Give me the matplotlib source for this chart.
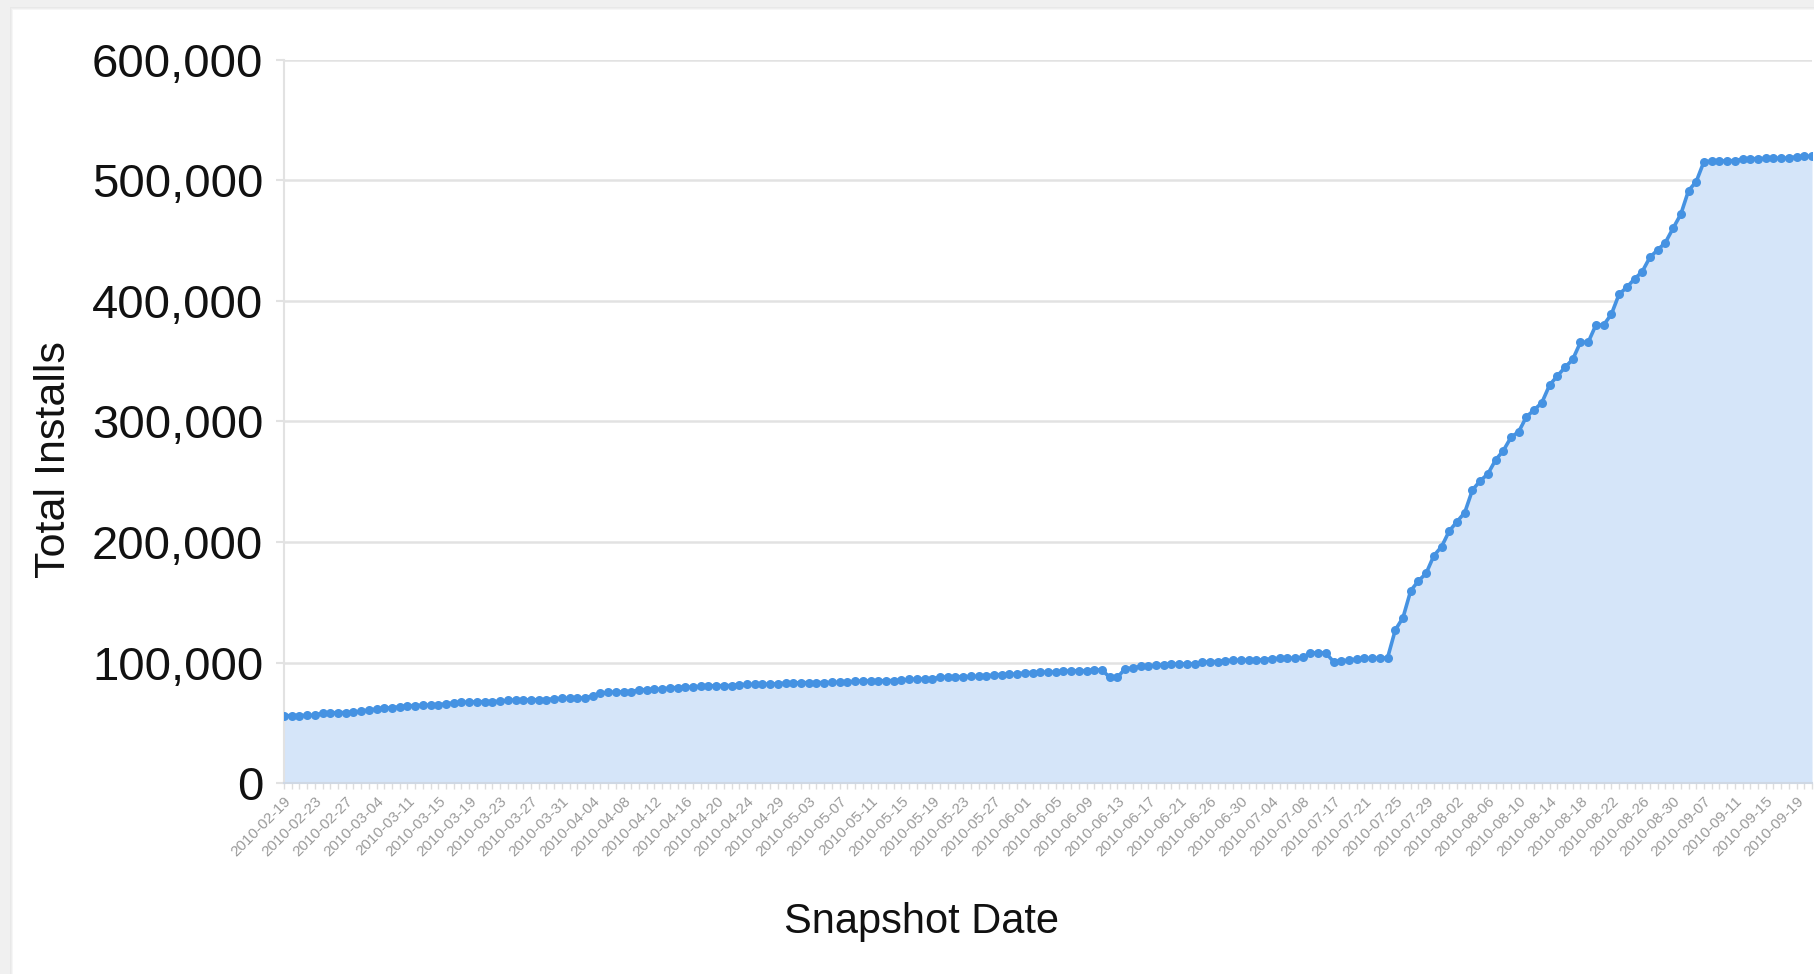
import matplotlib
matplotlib.use("Agg")
import matplotlib.pyplot as plt
from matplotlib.patches import Rectangle
from matplotlib.ticker import FuncFormatter
import numpy as np

plt.rcParams["font.family"] = ["Liberation Sans", "DejaVu Sans"]

# total installs per snapshot (thousands)
installs_k = [
    55.8, 55.9, 56.0, 56.1, 56.3, 58.0, 58.2, 58.4, 58.5, 58.6,
    59.8, 60.5, 61.5, 62.0, 62.6, 63.2, 64.0, 64.3, 64.5, 64.7,
    64.9, 65.8, 66.5, 67.0, 67.2, 67.4, 67.5, 67.6, 67.8, 68.6,
    68.8, 68.9, 69.0, 69.1, 69.2, 70.0, 70.2, 70.3, 70.4, 70.6,
    72.5, 74.4, 75.2, 75.5, 75.7, 75.9, 77.2, 77.5, 77.7, 77.9,
    79.0, 79.2, 79.4, 79.6, 80.4, 80.6, 80.7, 80.8, 80.9, 81.6,
    81.8, 81.9, 82.0, 82.1, 82.4, 83.0, 83.1, 83.2, 83.3, 83.3,
    83.4, 83.5, 83.6, 83.8, 84.4, 84.6, 84.7, 84.8, 84.9, 85.0,
    85.2, 86.0, 86.2, 86.3, 86.5, 87.8, 88.0, 88.1, 88.3, 88.4,
    88.5, 88.7, 89.8, 90.0, 90.2, 90.4, 91.5, 91.7, 91.9, 92.0,
    92.1, 92.8, 93.0, 93.1, 93.2, 94.0, 93.6, 87.8, 87.6, 95.0,
    95.4, 96.8, 97.3, 97.6, 98.2, 98.5, 98.8, 98.9, 99.0, 100.3,
    100.6, 100.8, 101.6, 101.8, 101.9, 102.0, 102.1, 102.3, 103.2, 103.4,
    103.5, 103.6, 104.2, 107.8, 108.1, 107.9, 100.7, 101.5, 101.8, 103.0,
    103.4, 103.5, 103.6, 103.8, 127.0, 137.2, 159.6, 167.7, 174.0, 188.7,
    196.1, 209.2, 216.9, 224.4, 243.2, 250.7, 256.5, 268.1, 275.8, 286.9,
    291.6, 304.0, 309.6, 315.7, 330.3, 337.8, 345.0, 351.6, 365.8, 365.8,
    380.1, 380.1, 389.0, 405.6, 411.4, 418.3, 424.4, 436.3, 442.4, 448.5,
    460.4, 472.0, 491.6, 499.1, 515.7, 516.0, 516.2, 516.3, 516.5, 517.8,
    518.0, 518.2, 518.3, 518.4, 518.5, 518.6, 519.8, 520.0, 520.2,
]

# every 4th snapshot date is labelled
tick_labels = [
    "2010-02-19", "2010-02-23", "2010-02-27", "2010-03-04", "2010-03-11",
    "2010-03-15", "2010-03-19", "2010-03-23", "2010-03-27", "2010-03-31",
    "2010-04-04", "2010-04-08", "2010-04-12", "2010-04-16", "2010-04-20",
    "2010-04-24", "2010-04-29", "2010-05-03", "2010-05-07", "2010-05-11",
    "2010-05-15", "2010-05-19", "2010-05-23", "2010-05-27", "2010-06-01",
    "2010-06-05", "2010-06-09", "2010-06-13", "2010-06-17", "2010-06-21",
    "2010-06-26", "2010-06-30", "2010-07-04", "2010-07-08", "2010-07-17",
    "2010-07-21", "2010-07-25", "2010-07-29", "2010-08-02", "2010-08-06",
    "2010-08-10", "2010-08-14", "2010-08-18", "2010-08-22", "2010-08-26",
    "2010-08-30", "2010-09-07", "2010-09-11", "2010-09-15", "2010-09-19",
]

y_ticks = [0, 100000, 200000, 300000, 400000, 500000, 600000]

W, H = 1815, 974
fig = plt.figure(figsize=(W / 100, H / 100), dpi=100)
fig.patch.set_facecolor("#f0f0f0")

# screenshot panel with a soft shadow on the top/left
for k, c in enumerate(["#e8e8e8", "#eeeeee", "#f6f6f6"]):
    fig.patches.append(Rectangle(((10 + k) / W, 0), 1, (H - 7 - k) / H,
                                 transform=fig.transFigure, facecolor=c,
                                 edgecolor="none", zorder=-3))
fig.patches.append(Rectangle((13 / W, 0), 1, (H - 10) / H,
                             transform=fig.transFigure, facecolor="white",
                             edgecolor="none", zorder=-2))

ax = fig.add_axes([284 / W, (H - 783) / H, (1812 - 284) / W, (783 - 60) / H])
ax.set_zorder(2)
ax.set_facecolor("none")

vals = np.array(installs_k) * 1000
x = np.arange(len(vals))

ax.fill_between(x, vals, 0, color="#d5e5f9", linewidth=0, zorder=1)
ax.plot(x, vals, color="#4592e2", linewidth=2.6, marker="o",
        markersize=6.5, markeredgewidth=0, zorder=3)

ax.set_xlim(0, len(vals) - 1)
ax.set_ylim(0, 600000)
ax.set_yticks(y_ticks)
ax.yaxis.set_major_formatter(FuncFormatter(lambda v, p: f"{int(v):,}"))
ax.grid(axis="y", color="#e2e2e2", linewidth=1.8, zorder=0)
ax.set_axisbelow(True)
ax.tick_params(axis="y", length=6, width=1.5, color="#e2e2e2",
               labelsize=34, pad=9, labelcolor="#111111")

ax.set_xticks(x[::4][:len(tick_labels)])
ax.set_xticklabels(tick_labels, rotation=45, ha="right", va="top",
                   rotation_mode="anchor", fontsize=11, color="#9a9a9a")
ax.set_xticks(x, minor=True)
ax.tick_params(axis="x", which="both", length=4, width=1, color="#dddddd", pad=4)

for s in ["top", "right"]:
    ax.spines[s].set_visible(False)
ax.spines["left"].set_color("#e2e2e2")
ax.spines["left"].set_linewidth(1.5)
ax.spines["bottom"].set_color("#cfd8e4")
ax.spines["bottom"].set_linewidth(1.5)

fig.text(54 / W, 1 - 460 / H, "Total Installs", fontsize=31, rotation=90,
         color="#111111", ha="center", va="center")
fig.text(922 / W, 1 - 922 / H, "Snapshot Date", fontsize=30,
         color="#111111", ha="center", va="center")

fig.savefig("out.png", dpi=100, facecolor=fig.get_facecolor())
